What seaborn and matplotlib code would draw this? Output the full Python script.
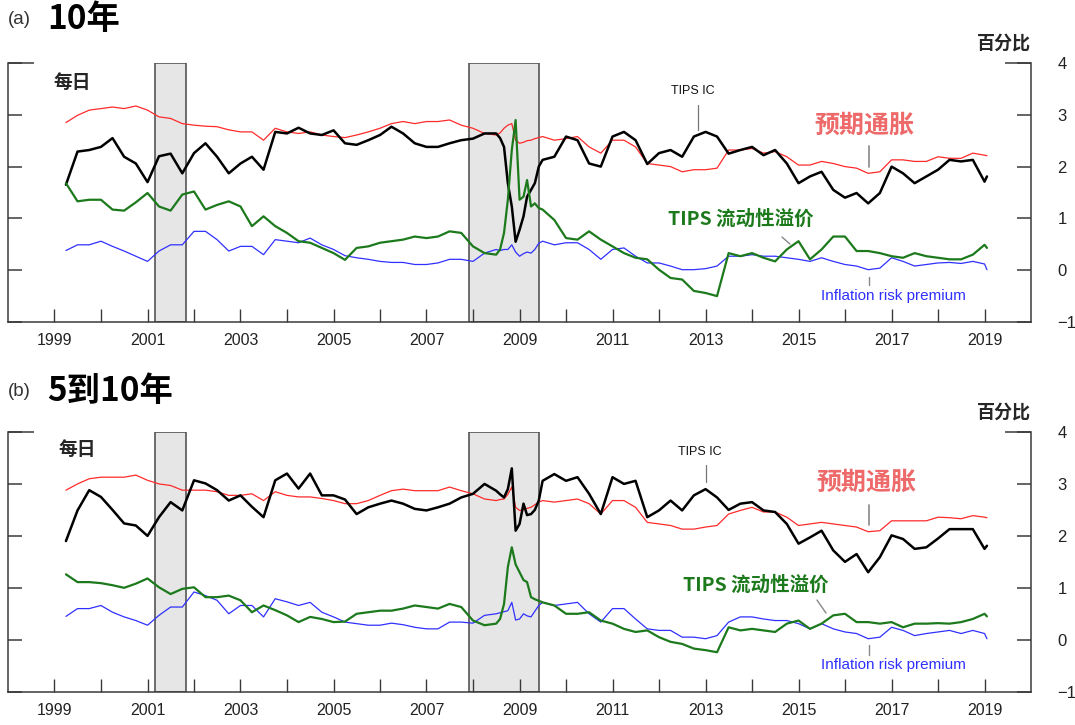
import matplotlib
matplotlib.use("Agg")
import matplotlib.pyplot as plt
from matplotlib.ticker import FixedLocator, FuncFormatter
import matplotlib.dates as mdates
import pandas as pd
import seaborn as sns

sns.set_style("ticks")
plt.rcParams["font.family"] = ["Liberation Sans", "Noto Sans CJK SC", "DejaVu Sans"]
plt.rcParams["axes.unicode_minus"] = True

# Observation dates: quarterly, monthly through the 2008-09 crisis, quarterly again
dates = pd.DatetimeIndex(
    list(pd.date_range("1999-04-01", "2008-07-01", freq="QS"))
    + list(pd.date_range("2008-08-01", "2009-06-01", freq="MS"))
    + list(pd.date_range("2009-07-01", "2019-01-01", freq="QS"))
    + [pd.Timestamp("2019-01-20")]
)

# ---- (a) 10-year horizon, percent ----
ic_10y = [
    1.65, 2.29, 2.32, 2.38, 2.55, 2.19, 2.06, 1.70, 2.20, 2.25, 1.87,
    2.26, 2.45, 2.19, 1.87, 2.06, 2.19, 1.94, 2.67, 2.64, 2.75, 2.64, 2.61,
    2.70, 2.45, 2.42, 2.51, 2.61, 2.77, 2.64, 2.45, 2.38, 2.38, 2.45, 2.51,
    2.54, 2.64, 2.64,
    2.55, 2.38, 1.68, 1.23, 0.55, 0.78, 1.04, 1.42, 1.55, 1.68, 2.00,
    2.13, 2.19, 2.58, 2.51, 2.06, 2.00, 2.58, 2.67, 2.51, 2.05, 2.26, 2.32,
    2.19, 2.58, 2.67, 2.58, 2.25, 2.32, 2.38, 2.22, 2.32, 2.06, 1.68, 1.81,
    1.90, 1.55, 1.40, 1.49, 1.29, 1.49, 2.00, 1.87, 1.68, 1.81, 1.94, 2.13,
    2.10, 2.13, 1.71,
    1.81,
]
expected_10y = [
    2.85, 2.99, 3.09, 3.12, 3.15, 3.12, 3.17, 3.09, 2.96, 2.93, 2.83,
    2.80, 2.78, 2.77, 2.71, 2.67, 2.67, 2.51, 2.74, 2.67, 2.64, 2.67, 2.61,
    2.58, 2.56, 2.61, 2.67, 2.74, 2.83, 2.87, 2.83, 2.87, 2.87, 2.90, 2.80,
    2.74, 2.64, 2.61,
    2.65, 2.74, 2.80, 2.83, 2.51, 2.45, 2.47, 2.50, 2.51, 2.54, 2.56,
    2.58, 2.51, 2.54, 2.58, 2.38, 2.26, 2.51, 2.51, 2.38, 2.06, 2.03, 2.00,
    1.90, 1.94, 1.94, 1.97, 2.32, 2.32, 2.35, 2.26, 2.29, 2.19, 2.03, 2.03,
    2.10, 2.06, 2.00, 1.97, 1.87, 1.90, 2.13, 2.13, 2.10, 2.10, 2.19, 2.16,
    2.16, 2.26, 2.22,
    2.21,
]
liquidity_10y = [
    1.68, 1.33, 1.36, 1.36, 1.17, 1.15, 1.31, 1.49, 1.23, 1.15, 1.46,
    1.52, 1.17, 1.26, 1.33, 1.23, 0.85, 1.04, 0.85, 0.72, 0.56, 0.53, 0.43,
    0.33, 0.20, 0.43, 0.46, 0.53, 0.56, 0.59, 0.65, 0.62, 0.65, 0.75, 0.72,
    0.46, 0.33, 0.30,
    0.40, 0.72, 1.36, 2.32, 2.90, 1.36, 1.42, 1.74, 1.23, 1.29, 1.20,
    1.17, 0.97, 0.62, 0.59, 0.75, 0.59, 0.46, 0.33, 0.24, 0.21, 0.01, -0.15,
    -0.18, -0.40, -0.44, -0.50, 0.33, 0.27, 0.33, 0.24, 0.17, 0.40, 0.56, 0.21,
    0.40, 0.65, 0.65, 0.37, 0.37, 0.33, 0.27, 0.24, 0.33, 0.27, 0.24, 0.21,
    0.21, 0.30, 0.49,
    0.43,
]
risk_10y = [
    0.38, 0.49, 0.49, 0.56, 0.46, 0.37, 0.27, 0.17, 0.37, 0.49, 0.49,
    0.75, 0.75, 0.59, 0.37, 0.46, 0.46, 0.30, 0.59, 0.56, 0.53, 0.62, 0.49,
    0.40, 0.28, 0.24, 0.21, 0.17, 0.15, 0.15, 0.11, 0.11, 0.14, 0.21, 0.21,
    0.17, 0.33, 0.40,
    0.38, 0.40, 0.40, 0.49, 0.35, 0.27, 0.32, 0.35, 0.33, 0.40, 0.52,
    0.56, 0.49, 0.53, 0.53, 0.40, 0.21, 0.40, 0.43, 0.27, 0.14, 0.14, 0.08,
    0.01, 0.01, 0.03, 0.08, 0.27, 0.27, 0.30, 0.27, 0.27, 0.24, 0.21, 0.17,
    0.24, 0.17, 0.11, 0.08, 0.01, 0.04, 0.24, 0.17, 0.08, 0.11, 0.14, 0.15,
    0.13, 0.17, 0.12,
    0.01,
]

# ---- (b) 5-to-10-year forward, percent ----
ic_5y5y = [
    1.90, 2.49, 2.88, 2.75, 2.50, 2.24, 2.20, 2.00, 2.36, 2.65, 2.49,
    3.07, 3.01, 2.88, 2.68, 2.78, 2.56, 2.36, 3.07, 3.20, 2.91, 3.20, 2.78,
    2.78, 2.70, 2.42, 2.55, 2.62, 2.68, 2.62, 2.52, 2.49, 2.55, 2.62, 2.74,
    2.81, 3.00, 2.87,
    2.80, 2.74, 2.90, 3.30, 2.10, 2.23, 2.62, 2.40, 2.42, 2.50, 2.68,
    3.06, 3.19, 3.06, 3.13, 2.81, 2.42, 3.13, 3.00, 3.06, 2.36, 2.49, 2.68,
    2.49, 2.78, 2.90, 2.74, 2.50, 2.62, 2.65, 2.49, 2.46, 2.23, 1.85, 1.97,
    2.10, 1.72, 1.50, 1.65, 1.30, 1.59, 2.01, 1.94, 1.75, 1.78, 1.95, 2.13,
    2.13, 2.13, 1.75,
    1.81,
]
expected_5y5y = [
    2.88, 3.00, 3.10, 3.13, 3.13, 3.13, 3.17, 3.07, 3.00, 2.97, 2.88,
    2.88, 2.88, 2.85, 2.78, 2.78, 2.81, 2.68, 2.85, 2.78, 2.75, 2.75, 2.72,
    2.68, 2.62, 2.62, 2.68, 2.78, 2.87, 2.90, 2.87, 2.87, 2.87, 2.94, 2.87,
    2.81, 2.71, 2.68,
    2.70, 2.71, 2.80, 2.94, 2.55, 2.49, 2.50, 2.53, 2.55, 2.60, 2.65,
    2.68, 2.65, 2.68, 2.71, 2.62, 2.42, 2.68, 2.68, 2.55, 2.26, 2.23, 2.20,
    2.13, 2.13, 2.17, 2.20, 2.42, 2.49, 2.55, 2.46, 2.46, 2.36, 2.20, 2.23,
    2.26, 2.23, 2.20, 2.17, 2.08, 2.10, 2.29, 2.29, 2.29, 2.29, 2.36, 2.35,
    2.33, 2.39, 2.36,
    2.35,
]
liquidity_5y5y = [
    1.26, 1.11, 1.11, 1.09, 1.05, 1.00, 1.08, 1.18, 1.01, 0.88, 0.98,
    1.01, 0.82, 0.82, 0.85, 0.76, 0.53, 0.66, 0.57, 0.47, 0.34, 0.44, 0.40,
    0.34, 0.35, 0.50, 0.53, 0.56, 0.56, 0.60, 0.66, 0.63, 0.60, 0.69, 0.63,
    0.37, 0.28, 0.31,
    0.40, 0.69, 1.40, 1.78, 1.45, 1.30, 1.15, 1.11, 0.82, 0.78, 0.75,
    0.72, 0.66, 0.50, 0.50, 0.53, 0.37, 0.31, 0.21, 0.15, 0.18, 0.05, -0.04,
    -0.08, -0.17, -0.20, -0.24, 0.24, 0.18, 0.21, 0.18, 0.15, 0.31, 0.37, 0.21,
    0.31, 0.47, 0.50, 0.34, 0.34, 0.31, 0.34, 0.24, 0.31, 0.31, 0.32, 0.31,
    0.34, 0.40, 0.50,
    0.45,
]
risk_5y5y = [
    0.45, 0.60, 0.60, 0.66, 0.53, 0.44, 0.37, 0.28, 0.47, 0.63, 0.63,
    0.92, 0.85, 0.76, 0.50, 0.66, 0.66, 0.44, 0.79, 0.73, 0.66, 0.72, 0.53,
    0.44, 0.34, 0.31, 0.28, 0.28, 0.32, 0.29, 0.24, 0.21, 0.21, 0.34, 0.34,
    0.32, 0.47, 0.50,
    0.52, 0.54, 0.56, 0.72, 0.38, 0.40, 0.50, 0.46, 0.44, 0.55, 0.66,
    0.72, 0.66, 0.69, 0.72, 0.50, 0.34, 0.60, 0.60, 0.40, 0.21, 0.18, 0.18,
    0.05, 0.05, 0.02, 0.08, 0.34, 0.44, 0.44, 0.40, 0.37, 0.37, 0.31, 0.21,
    0.31, 0.21, 0.15, 0.12, 0.02, 0.05, 0.24, 0.18, 0.08, 0.12, 0.15, 0.18,
    0.12, 0.18, 0.12,
    0.02,
]

recessions = [("2001-03-01", "2001-11-01"), ("2007-12-01", "2009-06-01")]
tick_years = list(range(1999, 2020))
y_ticks = [-1, 0, 1, 2, 3, 4]

panel_letters = ["(a)", "(b)"]
panel_titles = ["10年", "5到10年"]
unit_label = "百分比"
freq_label = "每日"
ic_label = "TIPS IC"
expected_label = "预期通胀"
liquidity_label = "TIPS 流动性溢价"
risk_label = "Inflation risk premium"

C_IC = "#000000"
C_EXP = "#ff2a2a"
C_LIQ = "#1c7a1c"
C_RISK = "#3030ff"
C_EXP_TEXT = "#ee6a6a"
CJK = ["Noto Sans CJK SC", "DejaVu Sans"]
SPINE = "#3a3a3a"

W, H = 1075, 725
fig = plt.figure(figsize=(W / 100, H / 100), dpi=100)
ax_a = fig.add_axes([8 / W, 1 - 322 / H, 1023 / W, 259 / H])
ax_b = fig.add_axes([8 / W, 1 - 691.7 / H, 1023 / W, 259.7 / H])

# label positions in axes fractions
layouts = [
    dict(ic=(0.669, 0.892), ic_l=(0.6745, 0.838, 0.741),
         exp=(0.837, 0.757), exp_l=(0.8416, 0.680, 0.598),
         liq=(0.645, 0.398), liq_l=((0.7566, 0.328), (0.7644, 0.301)),
         risk=(0.7947, 0.100), risk_l=(0.8416, 0.174, 0.143),
         freq=(0.044, 0.923)),
    dict(ic=(0.676, 0.923), ic_l=(0.6823, 0.873, 0.808),
         exp=(0.839, 0.804), exp_l=(0.8416, 0.719, 0.642),
         liq=(0.660, 0.411), liq_l=((0.7908, 0.353), (0.7996, 0.303)),
         risk=(0.7947, 0.103), risk_l=(0.8416, 0.180, 0.141),
         freq=(0.049, 0.931)),
]

panels = [
    (ax_a, ic_10y, expected_10y, liquidity_10y, risk_10y),
    (ax_b, ic_5y5y, expected_5y5y, liquidity_5y5y, risk_5y5y),
]

for i, (ax, ic, exp, liq, risk) in enumerate(panels):
    for start, end in recessions:
        ax.axvspan(pd.Timestamp(start), pd.Timestamp(end), facecolor="#e6e6e6",
                   edgecolor="#555555", linewidth=1.2, zorder=0)

    sns.lineplot(x=dates, y=exp, ax=ax, color=C_EXP, linewidth=0.9, zorder=3)
    sns.lineplot(x=dates, y=risk, ax=ax, color=C_RISK, linewidth=0.9, zorder=3)
    sns.lineplot(x=dates, y=ic, ax=ax, color=C_IC, linewidth=1.8, zorder=4)
    sns.lineplot(x=dates, y=liq, ax=ax, color=C_LIQ, linewidth=1.6, zorder=5)

    ax.set_xlim(pd.Timestamp("1998-01-01"), pd.Timestamp("2020-01-01"))
    ax.set_ylim(y_ticks[0], y_ticks[-1])
    ax.set_xlabel("")
    ax.set_ylabel("")

    ax.xaxis.set_major_locator(FixedLocator(
        [mdates.date2num(pd.Timestamp(f"{y}-01-01")) for y in tick_years]))
    ax.xaxis.set_major_formatter(FuncFormatter(
        lambda v, p: str(mdates.num2date(v).year) if mdates.num2date(v).year % 2 == 1 else ""))
    ax.tick_params(axis="x", direction="in", length=9.5, width=1.0, color=SPINE,
                   labelsize=11.5, pad=8, labelcolor="#222222")

    ax.yaxis.set_major_locator(FixedLocator(y_ticks))
    ax.yaxis.set_minor_locator(FixedLocator([y_ticks[-1]]))
    ax.yaxis.remove_overlapping_locs = False
    ax.tick_params(axis="y", which="major", direction="in", length=10, width=1.1,
                   color=SPINE, left=True, right=True, labelleft=False,
                   labelright=True, labelsize=12, pad=19, labelcolor="#222222")
    ax.tick_params(axis="y", which="minor", direction="in", length=19, width=1.1,
                   color=SPINE, left=True, right=True)

    ax.spines["top"].set_visible(False)
    for s in ("left", "right", "bottom"):
        ax.spines[s].set_color(SPINE)
        ax.spines[s].set_linewidth(1.1)

    lay = layouts[i]
    tr = ax.transAxes
    ax.text(*lay["freq"], freq_label, transform=tr, family=CJK, fontweight="bold",
            fontsize=13.5, ha="left", va="center")
    ax.text(1.0, 1.077, unit_label, transform=tr, family=CJK, fontweight="bold",
            fontsize=13, ha="right", va="center", clip_on=False)

    ax.text(*lay["ic"], ic_label, transform=tr, fontsize=9, ha="center",
            va="center", color="#111111")
    x, y0, y1 = lay["ic_l"]
    ax.plot([x, x], [y0, y1], transform=tr, color="#777777", lw=0.9, zorder=6)

    ax.text(*lay["exp"], expected_label, transform=tr, family=CJK, fontweight="bold",
            fontsize=18, ha="center", va="center", color=C_EXP_TEXT, zorder=7)
    x, y0, y1 = lay["exp_l"]
    ax.plot([x, x], [y0, y1], transform=tr, color="#888888", lw=1.2, zorder=6)

    ax.text(*lay["liq"], liquidity_label, transform=tr, family=CJK, fontweight="bold",
            fontsize=14, ha="left", va="center", color=C_LIQ, zorder=7)
    (x0, y0), (x1, y1) = lay["liq_l"]
    ax.plot([x0, x1], [y0, y1], transform=tr, color="#888888", lw=1.0, zorder=6)

    ax.text(*lay["risk"], risk_label, transform=tr, fontsize=11, ha="left",
            va="center", color=C_RISK, zorder=7)
    x, y0, y1 = lay["risk_l"]
    ax.plot([x, x], [y0, y1], transform=tr, color="#888888", lw=1.0, zorder=6)

title_y = [1 - 20 / H, 1 - 391 / H]
for letter, title, ty in zip(panel_letters, panel_titles, title_y):
    fig.text(8 / W, ty, letter, fontsize=13.5, ha="left", va="center", color="#333333")
    fig.text(47 / W, ty, title, family=CJK, fontweight="bold", fontsize=24,
             ha="left", va="center", color="#000000")

fig.savefig("out.png", dpi=100)
